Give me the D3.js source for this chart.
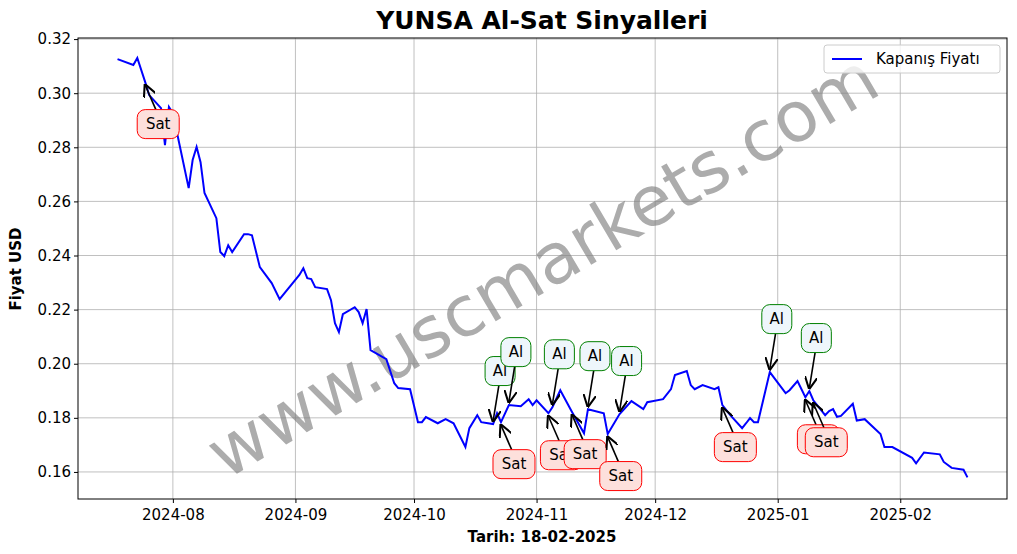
<!DOCTYPE html>
<html><head><meta charset="utf-8">
<script src="https://cdn.jsdelivr.net/npm/d3@7"></script>
<style>body{margin:0;background:#fff;} svg text{font-family:"DejaVu Sans",sans-serif;}</style>
</head><body><svg id="chart" width="1017" height="554"></svg>
<script>
var dates = ["2024-07-18","2024-07-22","2024-07-23","2024-07-25","2024-07-26","2024-07-29","2024-07-30","2024-07-31","2024-08-01",
"2024-08-05","2024-08-06","2024-08-07","2024-08-08","2024-08-09","2024-08-12","2024-08-13","2024-08-14","2024-08-15","2024-08-16",
"2024-08-19","2024-08-20","2024-08-21","2024-08-23","2024-08-26","2024-08-28","2024-09-02","2024-09-03","2024-09-04","2024-09-05",
"2024-09-06","2024-09-09","2024-09-10","2024-09-11","2024-09-12","2024-09-13","2024-09-16","2024-09-17","2024-09-18","2024-09-19",
"2024-09-20","2024-09-24","2024-09-26","2024-09-27","2024-09-30","2024-10-02","2024-10-03","2024-10-04","2024-10-07","2024-10-09",
"2024-10-11","2024-10-14","2024-10-15","2024-10-17","2024-10-18","2024-10-21","2024-10-22","2024-10-23","2024-10-25","2024-10-28",
"2024-10-30","2024-10-31","2024-11-01","2024-11-04","2024-11-05","2024-11-07","2024-11-10","2024-11-13","2024-11-14","2024-11-18",
"2024-11-19","2024-11-22","2024-11-25","2024-11-28","2024-11-29","2024-12-03","2024-12-05","2024-12-06","2024-12-09","2024-12-10",
"2024-12-11","2024-12-13","2024-12-16","2024-12-17","2024-12-18","2024-12-20","2024-12-23","2024-12-24","2024-12-25","2024-12-26",
"2024-12-27","2024-12-30","2025-01-03","2025-01-04","2025-01-06","2025-01-08","2025-01-09","2025-01-10","2025-01-13","2025-01-14",
"2025-01-15","2025-01-16","2025-01-17","2025-01-20","2025-01-21","2025-01-23","2025-01-27","2025-01-28","2025-01-30","2025-02-04",
"2025-02-05","2025-02-07","2025-02-11","2025-02-12","2025-02-14","2025-02-17","2025-02-18"];
var closes = [0.3126,0.3104,0.3130,0.3041,0.2993,0.2945,0.2808,0.2949,0.2926,
0.2649,0.2753,0.2801,0.2745,0.2631,0.2538,0.2413,0.2398,0.2438,0.2413,
0.2479,0.2479,0.2475,0.2357,0.2298,0.2239,0.2328,0.2353,0.2316,0.2313,
0.2283,0.2276,0.2235,0.2150,0.2117,0.2183,0.2209,0.2191,0.2150,0.2202,
0.2050,0.2017,0.1928,0.1910,0.1906,0.1784,0.1784,0.1803,0.1780,0.1795,
0.1780,0.1692,0.1762,0.1810,0.1784,0.1777,0.1817,0.1784,0.1847,0.1843,
0.1869,0.1847,0.1865,0.1817,0.1839,0.1902,0.1821,0.1743,0.1832,0.1817,
0.1740,0.1814,0.1862,0.1832,0.1858,0.1869,0.1906,0.1958,0.1973,0.1921,
0.1906,0.1921,0.1906,0.1913,0.1847,0.1810,0.1762,0.1780,0.1799,0.1784,
0.1784,0.1969,0.1891,0.1902,0.1936,0.1876,0.1899,0.1865,0.1810,0.1825,
0.1832,0.1804,0.1807,0.1852,0.1790,0.1795,0.1740,0.1692,0.1692,0.1652,
0.1632,0.1672,0.1665,0.1637,0.1615,0.1608,0.1580];
var buyDates = ["2024-10-21","2024-10-25","2024-11-05","2024-11-14","2024-11-22","2024-12-30","2025-01-09"];
var sellDates = ["2024-07-25","2024-10-23","2024-11-04","2024-11-10","2024-11-19","2024-12-18","2025-01-08","2025-01-10"];

var parse = d3.timeParse("%Y-%m-%d");
var data = dates.map(function (d, i) { return { date: parse(d), close: closes[i] }; });
var byDate = {};
dates.forEach(function (d, i) { byDate[d] = data[i]; });

var svg = d3.select("#chart");
var m = { left: 78, right: 1007, top: 38, bottom: 499 };

var x = d3.scaleTime().domain([parse("2024-07-08"), parse("2025-02-28")]).range([m.left, m.right]);
var y = d3.scaleLinear().domain([0.15, 0.3204]).range([m.bottom, m.top]);

var xTicks = ["2024-08-01","2024-09-01","2024-10-01","2024-11-01","2024-12-01","2025-01-01","2025-02-01"].map(parse);
var yTicks = [0.16,0.18,0.20,0.22,0.24,0.26,0.28,0.30,0.32];

// grid
var grid = svg.append("g").attr("stroke", "#b0b0b0").attr("stroke-width", 0.8);
xTicks.forEach(function (t) {
  grid.append("line").attr("x1", x(t)).attr("x2", x(t)).attr("y1", m.top).attr("y2", m.bottom);
});
yTicks.forEach(function (t) {
  grid.append("line").attr("x1", m.left).attr("x2", m.right).attr("y1", y(t)).attr("y2", y(t));
});

// watermark
svg.append("text")
  .attr("transform", "translate(545,270) rotate(-30.5)")
  .attr("text-anchor", "middle").attr("dominant-baseline", "middle")
  .attr("font-size", 70).attr("fill", "#808080").attr("opacity", 0.65)
  .text("www.uscmarkets.com");

// axes
svg.append("g").attr("transform", "translate(0," + m.bottom + ")")
  .call(d3.axisBottom(x).tickValues(xTicks).tickFormat(d3.timeFormat("%Y-%m")).tickSizeOuter(0).tickSize(4))
  .call(function (g) { g.selectAll("text").attr("font-size", 15).attr("dy", "0.95em").attr("fill", "#000"); });
svg.append("g").attr("transform", "translate(" + m.left + ",0)")
  .call(d3.axisLeft(y).tickValues(yTicks).tickFormat(d3.format(".2f")).tickSizeOuter(0).tickSize(4))
  .call(function (g) { g.selectAll("text").attr("font-size", 15).attr("fill", "#000"); });
svg.selectAll(".domain").remove();
svg.append("rect").attr("x", m.left).attr("y", m.top).attr("width", m.right - m.left)
  .attr("height", m.bottom - m.top).attr("fill", "none").attr("stroke", "#000").attr("stroke-width", 1);

// line
svg.append("path").datum(data)
  .attr("fill", "none").attr("stroke", "#0000ff").attr("stroke-width", 2)
  .attr("d", d3.line().x(function (d) { return x(d.date); }).y(function (d) { return y(d.close); }));

// arrow marker
svg.append("defs").append("marker").attr("id", "arr")
  .attr("viewBox", "0 0 10 10").attr("refX", 9).attr("refY", 5)
  .attr("markerWidth", 8).attr("markerHeight", 8).attr("orient", "auto-start-reverse")
  .append("path").attr("d", "M0,0 L10,5 L0,10").attr("fill", "none").attr("stroke", "#000").attr("stroke-width", 1.6);

function annotate(list, label, dx, dy, stroke, fill) {
  list.forEach(function (ds) {
    var d = byDate[ds];
    var px = x(d.date), py = y(d.close);
    var lx = px + dx, ly = py + dy;
    var w = label === "Al" ? 30 : 42, h = 29;
    var ey = dy < 0 ? ly + h / 2 : ly - h / 2;
    svg.append("line").attr("x1", lx - dx * 0.18).attr("y1", ey).attr("x2", px).attr("y2", py + (dy < 0 ? -3 : 3))
      .attr("stroke", "#000").attr("stroke-width", 1.6).attr("marker-end", "url(#arr)");
    svg.append("rect").attr("x", lx - w / 2).attr("y", ly - h / 2).attr("width", w).attr("height", h)
      .attr("rx", 8).attr("fill", fill).attr("stroke", stroke).attr("stroke-width", 1);
    svg.append("text").attr("x", lx).attr("y", ly + 5).attr("text-anchor", "middle")
      .attr("font-size", 15).attr("fill", "#000").text(label);
  });
}
annotate(sellDates, "Sat", 13, 42, "#ff0000", "#fde0dc");
annotate(buyDates, "Al", 7, -53, "#008000", "#eef6fb");

// legend
var lg = svg.append("g").attr("transform", "translate(824,45)");
lg.append("rect").attr("width", 176).attr("height", 28).attr("rx", 3)
  .attr("fill", "#fff").attr("fill-opacity", 0.8).attr("stroke", "#ccc");
lg.append("line").attr("x1", 8).attr("x2", 38).attr("y1", 14).attr("y2", 14).attr("stroke", "#0000ff").attr("stroke-width", 2);
lg.append("text").attr("x", 52).attr("y", 19).attr("font-size", 15).text("Kapanış Fiyatı");

// titles
svg.append("text").attr("x", 542).attr("y", 29).attr("text-anchor", "middle")
  .attr("font-size", 25).attr("font-weight", "bold").text("YUNSA Al-Sat Sinyalleri");
svg.append("text").attr("x", 542).attr("y", 542).attr("text-anchor", "middle")
  .attr("font-size", 15).attr("font-weight", "bold").text("Tarih: 18-02-2025");
svg.append("text").attr("transform", "translate(21,269) rotate(-90)").attr("text-anchor", "middle")
  .attr("font-size", 15).attr("font-weight", "bold").text("Fiyat USD");
</script></body></html>
